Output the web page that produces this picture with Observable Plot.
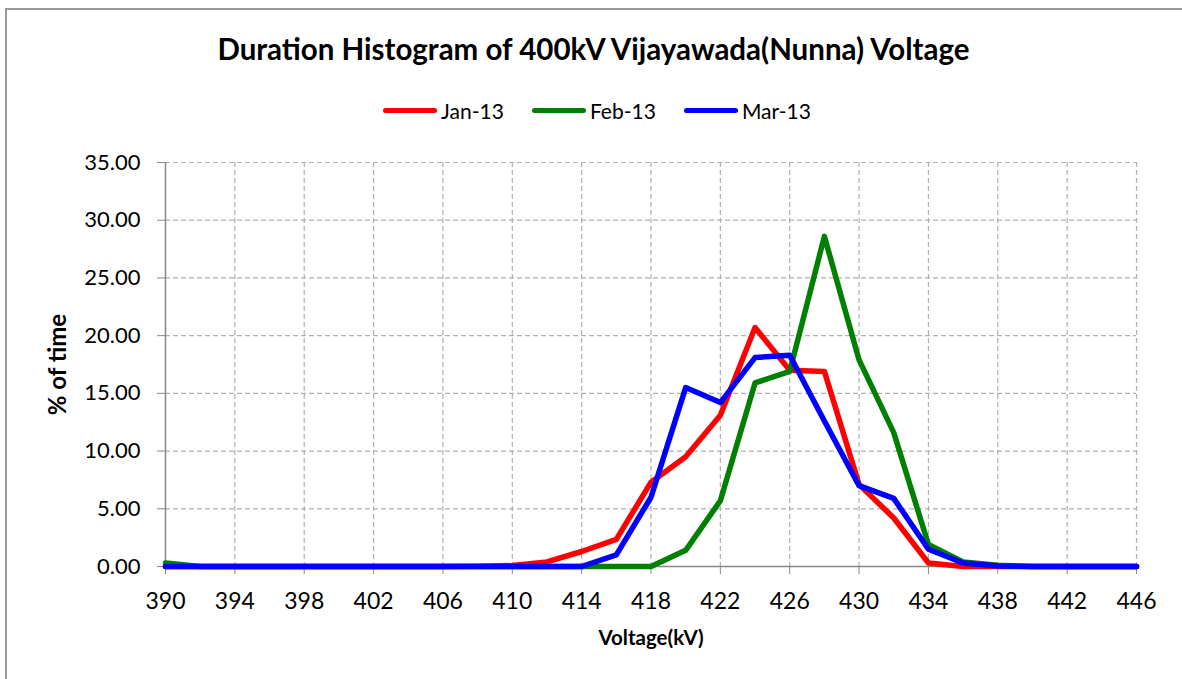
<!DOCTYPE html>
<html>
<head>
<meta charset="utf-8">
<script src="https://cdn.jsdelivr.net/npm/d3@7"></script>
<script src="https://cdn.jsdelivr.net/npm/@observablehq/plot@0.6"></script>
<style>
  html, body { margin: 0; padding: 0; background: #fff; }
  body { font-family: Lato, "Open Sans", sans-serif; }
  #wrap { position: relative; width: 1182px; height: 679px; overflow: hidden; background: #fff; }
  #frame { position: absolute; left: 5px; top: 8px; right: -10px; bottom: -10px; border-left: 2px solid #9a9a9a; border-top: 2px solid #9a9a9a; }
  #title { position: absolute; left: 5px; width: 1177px; top: 31px; text-align: center; font-weight: bold; font-size: 29.5px; line-height: 36px; color: #000; }
  #legend { position: absolute; left: 0; width: 1182px; top: 96px; height: 28px; display: flex; justify-content: center; align-items: center; font-size: 21px; color: #000; padding-left: 12px; box-sizing: border-box; }
  .item { display: flex; align-items: center; margin: 0 14px; }
  .sw { width: 54px; height: 5px; border-radius: 3px; margin-right: 4px; }
  #chart { position: absolute; left: 0; top: 130px; }
</style>
</head>
<body>
<div id="wrap">
  <div id="frame"></div>
  <div id="title"></div>
  <div id="legend"></div>
  <div id="chart"></div>
</div>
<script>
const title = "Duration Histogram of 400kV Vijayawada(Nunna) Voltage";
const xLabel = "Voltage(kV)";
const yLabel = "% of time";
const seriesNames = ["Jan-13", "Feb-13", "Mar-13"];
const seriesColors = ["#ff0000", "#008000", "#0000ff"];
const voltage = [390, 392, 394, 396, 398, 400, 402, 404, 406, 408, 410, 412, 414, 416, 418, 420, 422, 424, 426, 428, 430, 432, 434, 436, 438, 440, 442, 444, 446];
const jan13 = [0, 0, 0, 0, 0, 0, 0, 0, 0, 0.02, 0.08, 0.4, 1.3, 2.35, 7.3, 9.5, 13.1, 20.7, 17.0, 16.9, 7.1, 4.2, 0.3, 0, 0, 0, 0, 0, 0];
const feb13 = [0.3, 0, 0, 0, 0, 0, 0, 0, 0, 0, 0, 0, 0, 0, 0, 1.4, 5.7, 15.9, 16.9, 28.6, 17.9, 11.6, 1.9, 0.4, 0.1, 0, 0, 0, 0];
const mar13 = [0, 0, 0, 0, 0, 0, 0, 0, 0, 0, 0, 0, 0, 1.0, 6.0, 15.5, 14.2, 18.1, 18.3, 12.6, 7.0, 5.9, 1.5, 0.3, 0.05, 0, 0, 0, 0];
const xTicks = [390, 394, 398, 402, 406, 410, 414, 418, 422, 426, 430, 434, 438, 442, 446];
const yTicks = [0, 5, 10, 15, 20, 25, 30, 35];

document.getElementById("title").textContent = title;
const legend = document.getElementById("legend");
seriesNames.forEach((n, i) => {
  const it = document.createElement("div");
  it.className = "item";
  const sw = document.createElement("div");
  sw.className = "sw";
  sw.style.background = seriesColors[i];
  const t = document.createElement("span");
  t.textContent = n;
  it.appendChild(sw); it.appendChild(t);
  legend.appendChild(it);
});

const allSeries = [jan13, feb13, mar13];
const data = [];
allSeries.forEach((vals, si) => {
  vals.forEach((v, i) => data.push({series: seriesNames[si], x: voltage[i], y: v}));
});

const gridStyle = {stroke: "#b0b0b0", strokeOpacity: 1, strokeDasharray: "5,3", strokeWidth: 1.2};

const chart = Plot.plot({
  width: 1182,
  height: 549,
  marginLeft: 165,
  marginRight: 46,
  marginTop: 32,
  marginBottom: 113,
  style: {fontFamily: "Lato, 'Open Sans', sans-serif", fontSize: "20px", color: "#000", background: "transparent"},
  x: {domain: [390, 446], ticks: xTicks},
  y: {domain: [0, 35], ticks: yTicks},
  color: {domain: seriesNames, range: seriesColors},
  marks: [
    Plot.gridY(yTicks.filter(d => d > 0), gridStyle),
    Plot.gridX(xTicks.filter(d => d > 390), gridStyle),
    Plot.ruleX([390], {stroke: "#888", strokeWidth: 1.5}),
    Plot.ruleY([0], {stroke: "#888", strokeWidth: 1.5}),
    Plot.axisY(yTicks, {
      tickSize: 8, tickPadding: 17, tickFormat: d3.format(".2f"), stroke: "#888",
      label: yLabel, labelAnchor: "center", labelArrow: "none", labelOffset: 117,
      fontSize: 22
    }),
    Plot.axisX(xTicks, {
      tickSize: 8, tickPadding: 18, tickFormat: d => String(d), stroke: "#888",
      label: xLabel, labelAnchor: "center", labelArrow: "none", labelOffset: 78,
      fontSize: 23
    }),
    Plot.line(data, {x: "x", y: "y", z: "series", stroke: "series", strokeWidth: 5.5, strokeLinejoin: "round", strokeLinecap: "round"})
  ]
});
document.getElementById("chart").appendChild(chart);

// bold axis titles
chart.querySelectorAll("g[aria-label='y-axis label'] text").forEach(t => {
  t.style.fontWeight = "bold"; t.style.fontSize = "24px";
});
chart.querySelectorAll("g[aria-label='x-axis label'] text").forEach(t => {
  t.style.fontWeight = "bold"; t.style.fontSize = "20.5px";
});
</script>
</body>
</html>
